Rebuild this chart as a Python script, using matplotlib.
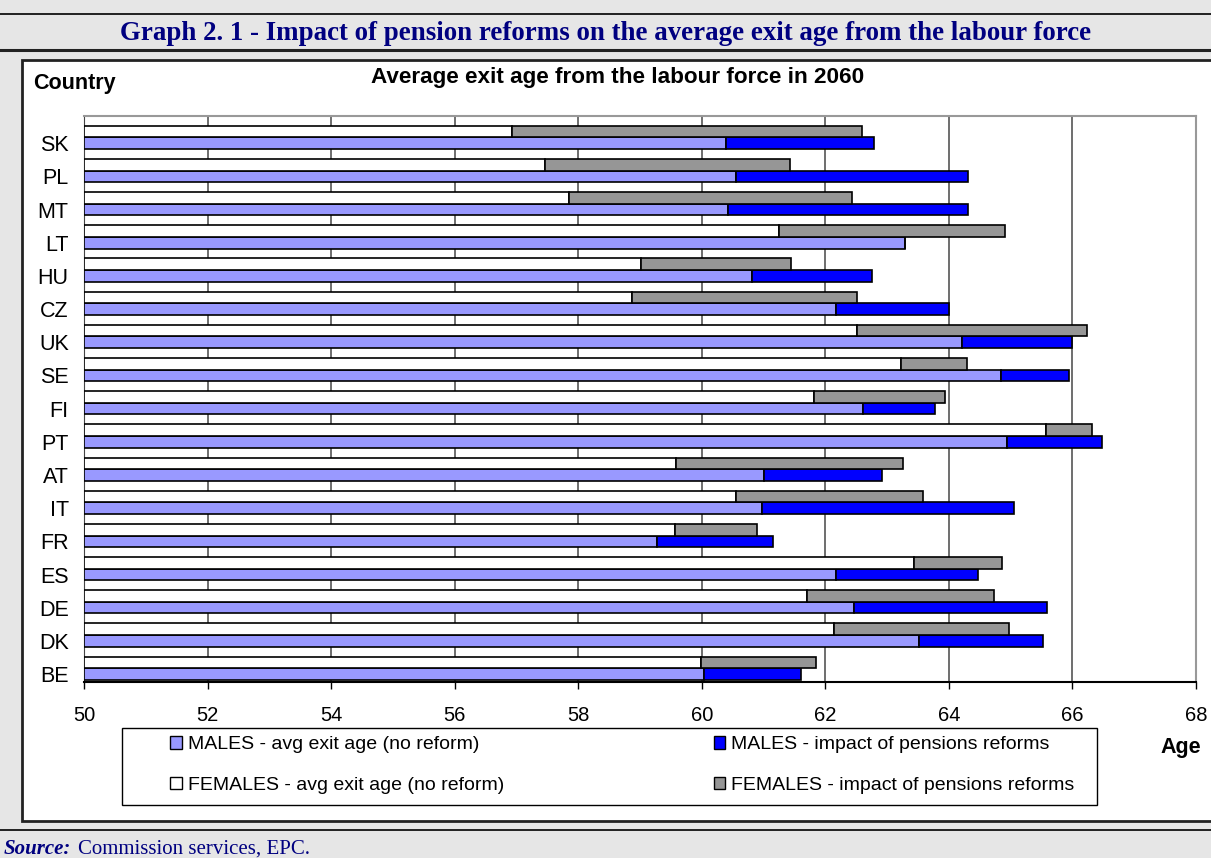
import matplotlib.pyplot as plt
from matplotlib.patches import Rectangle, Patch
from matplotlib.lines import Line2D

# values, bottom (BE) to top (SK)
countries = ['BE', 'DK', 'DE', 'ES', 'FR', 'IT', 'AT', 'PT', 'FI', 'SE', 'UK', 'CZ', 'HU', 'LT', 'MT', 'PL', 'SK']
male_base = [60.04, 63.51, 62.46, 62.17, 59.28, 60.97, 61.00, 64.94, 62.61, 64.85, 64.21, 62.17, 60.81, 63.29, 60.42, 60.55, 60.39]
male_impact = [1.56, 2.01, 3.13, 2.30, 1.88, 4.08, 1.91, 1.54, 1.17, 1.09, 1.78, 1.83, 1.94, 0.0, 3.89, 3.76, 2.40]
female_base = [59.98, 62.14, 61.70, 63.44, 59.57, 60.55, 59.59, 65.58, 61.82, 63.22, 62.52, 58.87, 59.02, 61.25, 57.85, 57.47, 56.92]
female_impact = [1.87, 2.84, 3.03, 1.42, 1.33, 3.03, 3.67, 0.74, 2.11, 1.07, 3.72, 3.65, 2.42, 3.66, 4.58, 3.95, 5.67]
xticks = [50, 52, 54, 56, 58, 60, 62, 64, 66, 68]

W, H = 1211, 858
AGE0 = 50
bg = '#e6e6e6'
navy = '#000080'
c_mb, c_mi, c_fb, c_fi = '#9999ff', '#0000ff', '#ffffff', '#969696'

plt.rcParams['font.family'] = ['Liberation Sans', 'DejaVu Sans']

fig = plt.figure(figsize=(W / 100, H / 100), dpi=100, facecolor=bg)


def fx(px):
    return px / W


def fy(py):
    return 1 - py / H


# page decoration: title band, chart box, source line
fig.add_artist(Line2D([0, 1], [fy(14), fy(14)], color='black', lw=1.2))
fig.add_artist(Line2D([0, 1], [fy(50), fy(50)], color='#222222', lw=2.2))
fig.add_artist(Line2D([0, 1], [fy(830), fy(830)], color='black', lw=1.2))
fig.add_artist(Rectangle((fx(22), fy(821)), fx(1215) - fx(22), fy(60) - fy(821),
                         facecolor='white', edgecolor='#222222', lw=2, zorder=-5))
fig.text(0.5, fy(33), 'Graph 2. 1 - Impact of pension reforms on the average exit age from the labour force',
         ha='center', va='center', color=navy, fontsize=19.4, fontweight='bold', family='Liberation Serif')
fig.text(fx(4), fy(849), 'Source:', ha='left', va='center', color=navy, fontsize=15,
         fontweight='bold', fontstyle='italic', family='Liberation Serif')
fig.text(fx(78), fy(849), 'Commission services, EPC.', ha='left', va='center', color=navy,
         fontsize=15, family='Liberation Serif')

fig.text(fx(33), fy(84), 'Country', ha='left', va='center', fontsize=15.5, fontweight='bold')
fig.text(fx(618), fy(78), 'Average exit age from the labour force in 2060', ha='center', va='center',
         fontsize=16.2, fontweight='bold')
fig.text(fx(1181), fy(747), 'Age', ha='center', va='center', fontsize=15.5, fontweight='bold')

ax = fig.add_axes([fx(84), fy(682), fx(1196) - fx(84), fy(116) - fy(682)])
ax.set_facecolor('white')

h = 0.35
y = list(range(len(countries)))
y_f = [v + h for v in y]
ekw = dict(edgecolor='black', linewidth=1.2, zorder=3)

ax.barh(y, [v - AGE0 for v in male_base], left=AGE0, height=h, color=c_mb, **ekw)
ax.barh(y, male_impact, left=male_base, height=h, color=c_mi, **ekw)
ax.barh(y_f, [v - AGE0 for v in female_base], left=AGE0, height=h, color=c_fb, **ekw)
ax.barh(y_f, female_impact, left=female_base, height=h, color=c_fi, **ekw)

ax.set_xlim(50, 68)
ax.set_ylim(-0.24, 16.82)
ax.set_xticks(xticks)
ax.set_yticks(y)
ax.set_yticklabels(countries)
ax.tick_params(axis='y', length=0, pad=11, labelsize=15.5)
ax.tick_params(axis='x', length=5, width=1, direction='out', pad=12, labelsize=14.5)
ax.set_axisbelow(True)
ax.xaxis.grid(True, color='#555555', lw=1.2)
for s in ['top', 'right']:
    ax.spines[s].set_color('#999999')
    ax.spines[s].set_linewidth(1.5)
ax.spines['left'].set_color('#444444')
ax.spines['bottom'].set_color('black')
ax.spines['bottom'].set_linewidth(1.5)

# legend
fig.add_artist(Rectangle((fx(122), fy(805)), fx(1097) - fx(122), fy(728) - fy(805),
                         facecolor='white', edgecolor='black', lw=1, zorder=1))
handles = [Patch(facecolor=c_mb, edgecolor='black'), Patch(facecolor=c_fb, edgecolor='black'),
           Patch(facecolor=c_mi, edgecolor='black'), Patch(facecolor=c_fi, edgecolor='black')]
labels = ['MALES - avg exit age (no reform)', 'FEMALES - avg exit age (no reform)',
          'MALES - impact of pensions reforms', 'FEMALES - impact of pensions reforms']
fig.legend(handles, labels, ncol=2, loc='center left', bbox_to_anchor=(fx(170), fy(765)),
           frameon=False, fontsize=14, handlelength=0.6, handleheight=0.6, handletextpad=0.3,
           columnspacing=10.8, labelspacing=1.2, borderaxespad=0, borderpad=0)

fig.savefig('out.png', dpi=100, facecolor=bg)
